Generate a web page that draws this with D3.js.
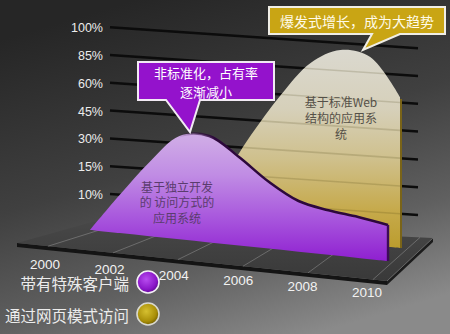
<!DOCTYPE html>
<html>
<head>
<meta charset="utf-8">
<script src="https://cdn.jsdelivr.net/npm/d3@7"></script>
<style>
  html, body { margin: 0; padding: 0; background: #333; }
  svg { display: block; }
</style>
</head>
<body>
<svg id="chart" width="450" height="334"></svg>
<script>
// ---- data ----
const years = [2000, 2001, 2002, 2003, 2004, 2005, 2006, 2007, 2008, 2009, 2010];
const yearLabels = [2000, 2002, 2004, 2006, 2008, 2010];
const tickValues = [10, 15, 30, 45, 60, 85, 100];
const tickLabels = ["10%", "15%", "30%", "45%", "60%", "85%", "100%"];
// share of applications with a dedicated client
const clientShare = [0, 8.7, 16.3, 32, 33.7, 24, 14.1, 11.2, 10.1, 9.3, 8.2];
// share of applications reached through web pages
const webShare = [0.5, 1.4, 3.3, 6.6, 11.8, 30, 53, 79.6, 90.2, 87.9, 57.7];
const seriesNames = ["带有特殊客户端", "通过网页模式访问"];
const calloutClient = ["非标准化，占有率", "逐渐减小"];
const calloutWeb = ["爆发式增长，成为大趋势"];
const labelClient = ["基于独立开发", "的 访问方式的", "应用系统"];
const labelWeb = ["基于标准Web", "结构的应用系", "统"];

const CJK = '"Noto Sans CJK SC", "Noto Sans", sans-serif';
const LAT = '"Liberation Sans", Arial, sans-serif';

const svg = d3.select("#chart");
const defs = svg.append("defs");

// ---- gradients ----
function linGrad(id, attrs, stops) {
  const g = defs.append("linearGradient").attr("id", id);
  Object.entries(attrs).forEach(([k, v]) => g.attr(k, v));
  stops.forEach(([o, c]) => g.append("stop").attr("offset", o).attr("stop-color", c));
  return g;
}
linGrad("bg", {x1: 0.3, y1: 0, x2: 0.7, y2: 1},
  [[0, "#262626"], [0.45, "#404040"], [0.75, "#606060"], [1, "#8a8a8a"]]);
linGrad("purpleFill", {gradientUnits: "userSpaceOnUse", x1: 0, y1: 128, x2: 0, y2: 262},
  [[0, "#d3b3e7"], [0.35, "#c08ce4"], [0.7, "#a652dc"], [1, "#8e1ed0"]]);
linGrad("goldFill", {gradientUnits: "userSpaceOnUse", x1: 0, y1: 48, x2: 0, y2: 250},
  [[0, "#dbd9d0"], [0.3, "#d6d0ba"], [0.55, "#cfc08c"], [0.8, "#c6aa4c"], [1, "#bb9c2c"]]);
linGrad("ridge", {gradientUnits: "userSpaceOnUse", x1: 178, y1: 0, x2: 215, y2: 0},
  [[0, "rgba(45,8,60,0)"], [1, "rgba(45,8,60,1)"]]);
linGrad("floorTop", {x1: 0, y1: 0, x2: 0, y2: 1},
  [[0, "#474747"], [1, "#393939"]]);

function radGrad(id, stops) {
  const g = defs.append("radialGradient").attr("id", id)
    .attr("cx", 0.42).attr("cy", 0.38).attr("r", 0.65);
  stops.forEach(([o, c]) => g.append("stop").attr("offset", o).attr("stop-color", c));
}
radGrad("dotPurple", [[0, "#b84cf0"], [0.7, "#8a16c8"], [1, "#5e0890"]]);
radGrad("dotGold", [[0, "#d6c030"], [0.7, "#a88e08"], [1, "#6e5a00"]]);

// ---- background ----
svg.append("rect").attr("width", 450).attr("height", 334).attr("fill", "url(#bg)");

// ---- scales ----
const bandStep = 27.8;
const y = d3.scaleLinear()
  .domain([0].concat(tickValues))
  .range([238].concat(tickValues.map((d, i) => 194 - i * bandStep)));

const gridX0 = 110, gridX1 = 418, gridDrop = 21;

// each series stands in its own slanted plane
function plane(xRange, baseAt, slope) {
  const x = d3.scaleLinear().domain([2000, 2010]).range(xRange);
  const base = px => baseAt[1] + (px - baseAt[0]) * slope;
  return { x, base, top: (yr, v) => y(v) + base(x(yr)) - y(0) };
}
const clientPlane = plane([90, 388], [90, 230], 0.104);
const webPlane = plane([102, 400], [400, 248], 0.09);

const yearX = d3.scaleLinear().domain([2000, 2010]).range([45, 367]);
const yearY = d3.scaleLinear().domain([2000, 2010]).range([264, 292]);

// ---- grid ----
const gridG = svg.append("g");
tickValues.forEach(t => {
  gridG.append("line")
    .attr("x1", gridX0).attr("y1", y(t))
    .attr("x2", gridX1).attr("y2", y(t) + gridDrop)
    .attr("stroke", "#0c0c0c").attr("stroke-width", 2.5);
});

// y labels
svg.append("g").selectAll("text").data(tickValues).join("text")
  .attr("x", 103).attr("y", d => y(d) + 1)
  .attr("text-anchor", "end").attr("dominant-baseline", "central")
  .attr("font-family", LAT).attr("font-size", 12.5)
  .attr("fill", "#ececec")
  .text((d, i) => tickLabels[i]);

// ---- floor ----
const FL = [17, 243], FR = [387, 281], BR = [433, 238], BL = [92, 222];
function floorPt(u, v) {
  const fx = FL[0] + (FR[0] - FL[0]) * u, fy = FL[1] + (FR[1] - FL[1]) * u;
  const bx = BL[0] + (BR[0] - BL[0]) * u, by = BL[1] + (BR[1] - BL[1]) * u;
  return [fx + (bx - fx) * v, fy + (by - fy) * v];
}
const floorG = svg.append("g");
floorG.append("path")
  .attr("d", d3.line()([FL, FR, [FR[0], FR[1] + 4], [FL[0], FL[1] + 4]]))
  .attr("fill", "#141414");
floorG.append("path")
  .attr("d", d3.line()([FR, BR, [BR[0], BR[1] + 4], [FR[0], FR[1] + 4]]))
  .attr("fill", "#1c1c1c");
floorG.append("path")
  .attr("d", d3.line()([BL, BR, FR, FL]) + "Z")
  .attr("fill", "url(#floorTop)");
floorG.append("path")
  .attr("d", d3.line()([BR, FR]))
  .attr("stroke", "#6c6c6c").attr("stroke-width", 0.8).attr("fill", "none");
const floorU = d3.scaleLinear().domain([2000, 2010]).range([0.084, 0.962]);
yearLabels.forEach(yr => {
  const a = floorPt(floorU(yr), 0), b = floorPt(floorU(yr), 1);
  floorG.append("line")
    .attr("x1", a[0]).attr("y1", a[1]).attr("x2", b[0]).attr("y2", b[1])
    .attr("stroke", "#a0a0a0").attr("stroke-opacity", 0.45).attr("stroke-width", 1);
});

// ---- areas ----
const curve = d3.curveCatmullRom.alpha(0.5);
function areaFor(p, values) {
  return d3.area()
    .x((d, i) => p.x(years[i]))
    .y0((d, i) => p.base(p.x(years[i])))
    .y1((d, i) => p.top(years[i], d))
    .curve(curve)(values);
}
function topFor(p, values) {
  return d3.line()
    .x((d, i) => p.x(years[i]))
    .y((d, i) => p.top(years[i], d))
    .curve(curve)(values);
}

// web series (behind)
const webPath = areaFor(webPlane, webShare);
svg.append("path").attr("d", webPath).attr("fill", "url(#goldFill)");
defs.append("clipPath").attr("id", "webClip").append("path").attr("d", webPath);
const ghost = svg.append("g").attr("clip-path", "url(#webClip)");
tickValues.forEach(t => {
  ghost.append("line")
    .attr("x1", gridX0).attr("y1", y(t))
    .attr("x2", gridX1).attr("y2", y(t) + gridDrop)
    .attr("stroke", "#3a3000").attr("stroke-opacity", 0.16).attr("stroke-width", 1.6);
});
{
  const xr = webPlane.x(2010);
  const last = webShare[webShare.length - 1];
  svg.append("line")
    .attr("x1", xr + 1).attr("y1", webPlane.top(2010, last) + 2)
    .attr("x2", xr + 1).attr("y2", webPlane.base(xr))
    .attr("stroke", "#7a6418").attr("stroke-width", 2);
}

// client series (front)
svg.append("path").attr("d", areaFor(clientPlane, clientShare)).attr("fill", "url(#purpleFill)");
svg.append("path").attr("d", topFor(clientPlane, clientShare))
  .attr("fill", "none").attr("stroke", "url(#ridge)").attr("stroke-width", 2.6);
{
  const xr = clientPlane.x(2010);
  const last = clientShare[clientShare.length - 1];
  svg.append("line")
    .attr("x1", xr).attr("y1", clientPlane.top(2010, last))
    .attr("x2", xr).attr("y2", clientPlane.base(xr))
    .attr("stroke", "#3c0c58").attr("stroke-width", 2.4);
}

// labels inside the areas
function block(lines, cx, y0, dy, color, size) {
  svg.append("g").selectAll("text").data(lines).join("text")
    .attr("x", cx).attr("y", (d, i) => y0 + i * dy)
    .attr("text-anchor", "middle").attr("dominant-baseline", "central")
    .attr("font-family", CJK).attr("font-size", size)
    .attr("fill", color).text(d => d);
}
block(labelClient, 177, 186, 15.5, "#5a3c6e", 12);
block(labelWeb, 341, 101, 16, "#555048", 12);

// ---- callouts ----
svg.append("path")
  .attr("d", "M138,62H274V100H200L190,132L166,100H138Z")
  .attr("fill", "#9412cc").attr("stroke", "#f2eaf4").attr("stroke-width", 2)
  .attr("stroke-linejoin", "miter");
block(calloutClient, 206, 72.5, 19, "#ffffff", 13);

svg.append("path")
  .attr("d", "M269,7H445V34H400L363,50L372,34H269Z")
  .attr("fill", "#c9a514").attr("stroke", "#f0eee6").attr("stroke-width", 2);
block(calloutWeb, 357, 20.5, 0, "#fffbe8", 14);

// ---- year axis ----
svg.append("g").selectAll("text").data(yearLabels).join("text")
  .attr("x", d => yearX(d)).attr("y", d => yearY(d))
  .attr("text-anchor", "middle").attr("dominant-baseline", "central")
  .attr("font-family", LAT).attr("font-size", 13.5)
  .attr("fill", "#f2f2f2").text(d => d);

// ---- legend ----
const legend = svg.append("g");
const legendFill = ["url(#dotPurple)", "url(#dotGold)"];
const legendStroke = ["#f4f0f6", "#d8d8d0"];
seriesNames.forEach((name, i) => {
  const cy = 282 + i * 32;
  legend.append("circle").attr("cx", 148).attr("cy", cy).attr("r", 11)
    .attr("fill", legendFill[i]).attr("stroke", legendStroke[i]).attr("stroke-width", 1.6);
  legend.append("text")
    .attr("x", 129).attr("y", cy + 1)
    .attr("text-anchor", "end").attr("dominant-baseline", "central")
    .attr("font-family", CJK).attr("font-size", 15.5)
    .attr("fill", "#ececec").text(name);
});
</script>
</body>
</html>
